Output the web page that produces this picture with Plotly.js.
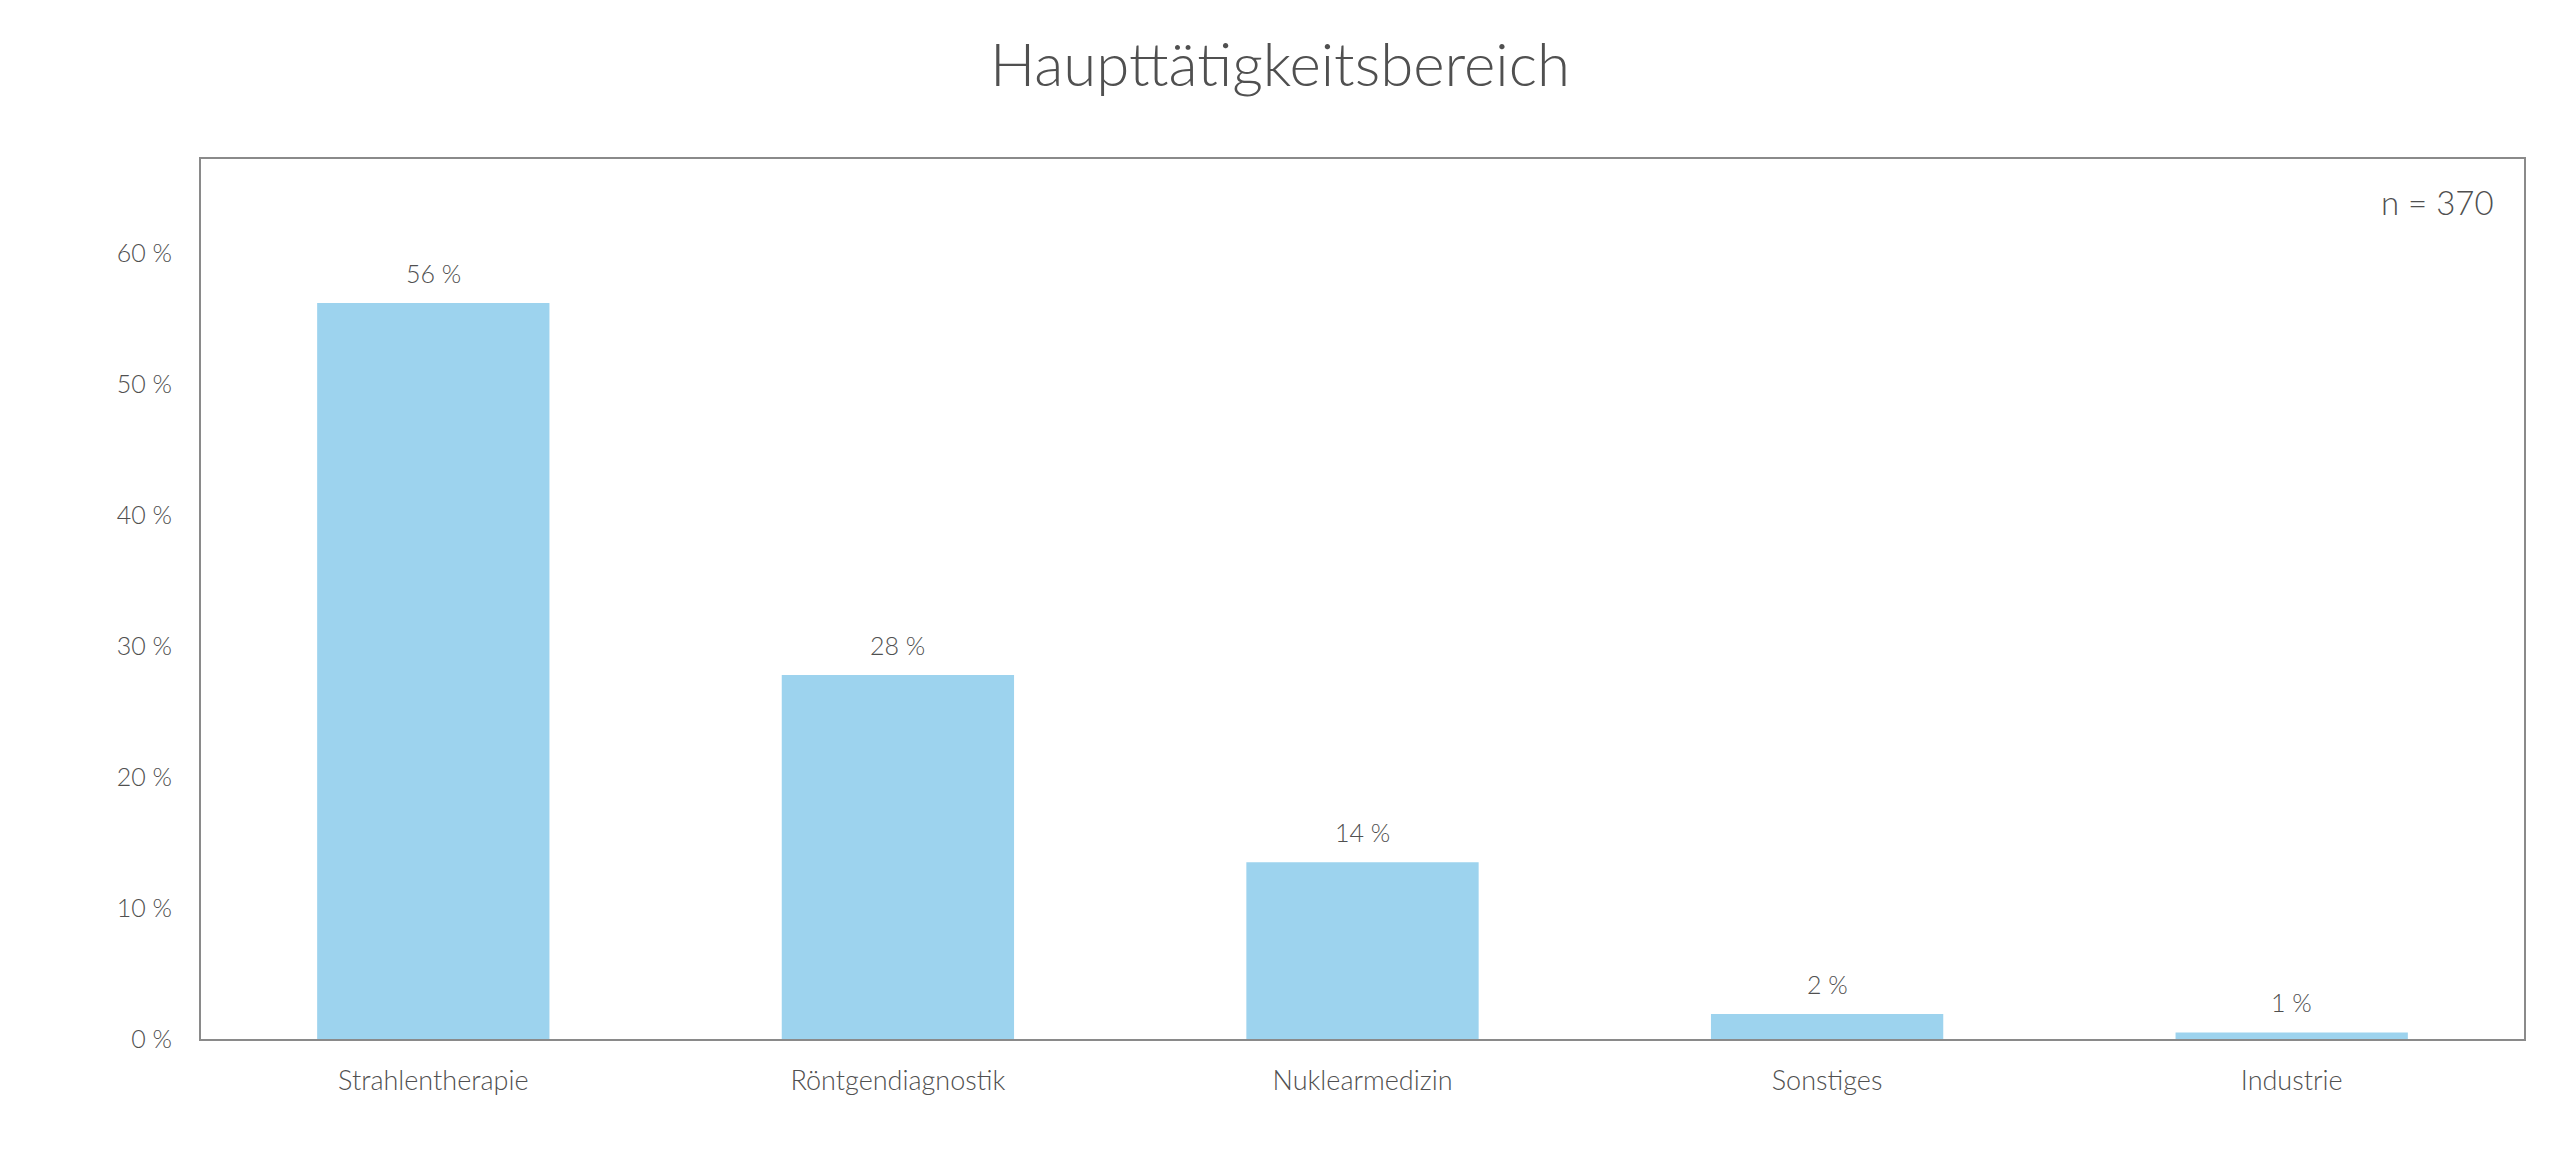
<!DOCTYPE html>
<html>
<head>
<meta charset="utf-8">
<script src="https://cdn.plot.ly/plotly-3.0.1.min.js"></script>
<style>html,body{margin:0;padding:0;background:#fff;}#chart{width:2560px;height:1169px;}</style>
</head>
<body>
<div id="chart"></div>
<script>
const categories = ["Strahlentherapie", "Röntgendiagnostik", "Nuklearmedizin", "Sonstiges", "Industrie"];
const values = [56.2, 27.8, 13.5, 1.9, 0.5];
const valueLabels = ["56 %", "28 %", "14 %", "2 %", "1 %"];
const yTickVals = [0, 10, 20, 30, 40, 50, 60];
const yTickText = ["0 %", "10 %", "20 %", "30 %", "40 %", "50 %", "60 %"];
const titleText = "Haupttätigkeitsbereich";
const noteText = "n = 370";

const FONT = "Lato, 'Open Sans', sans-serif";
const TXT = "#505050";

const trace = {
  type: "bar",
  x: categories,
  y: values,
  marker: {color: "#9dd3ee", line: {width: 0}},
  hoverinfo: "none"
};

const annotations = categories.map((c, i) => ({
  x: c, y: values[i], xref: "x", yref: "y",
  text: valueLabels[i], showarrow: false,
  yanchor: "middle", yshift: 30,
  font: {family: FONT, size: 25, color: TXT, weight: 300}
}));
annotations.push({
  x: 1, y: 1, xref: "paper", yref: "paper",
  text: noteText, showarrow: false,
  xanchor: "right", yanchor: "middle", xshift: -28, yshift: -43,
  font: {family: FONT, size: 33, color: TXT, weight: 300}
});

const layout = {
  width: 2560, height: 1169,
  paper_bgcolor: "#ffffff", plot_bgcolor: "#ffffff",
  margin: {l: 201, r: 36, t: 159, b: 130},
  showlegend: false,
  bargap: 0.5,
  font: {family: FONT, color: TXT, size: 25, weight: 300},
  title: {
    text: titleText,
    x: 0.5, xanchor: "center",
    y: 1 - 65 / 1169, yref: "container", yanchor: "middle",
    font: {family: FONT, size: 60, color: TXT, weight: 300}
  },
  xaxis: {
    type: "category",
    range: [-0.5, 4.5],
    showline: true, linecolor: "#8a8a8a", linewidth: 2, mirror: true,
    showgrid: false, zeroline: false, ticks: "",
    ticklabelstandoff: 17,
    tickfont: {family: FONT, size: 27, color: TXT, weight: 300}
  },
  yaxis: {
    range: [0, 67.2],
    tickvals: yTickVals, ticktext: yTickText,
    showline: true, linecolor: "#8a8a8a", linewidth: 2, mirror: true,
    showgrid: false, zeroline: false, ticks: "",
    ticklabelstandoff: 22,
    tickfont: {family: FONT, size: 25, color: TXT, weight: 300}
  },
  annotations: annotations
};

Plotly.newPlot("chart", [trace], layout, {displayModeBar: false, staticPlot: true});
</script>
</body>
</html>
